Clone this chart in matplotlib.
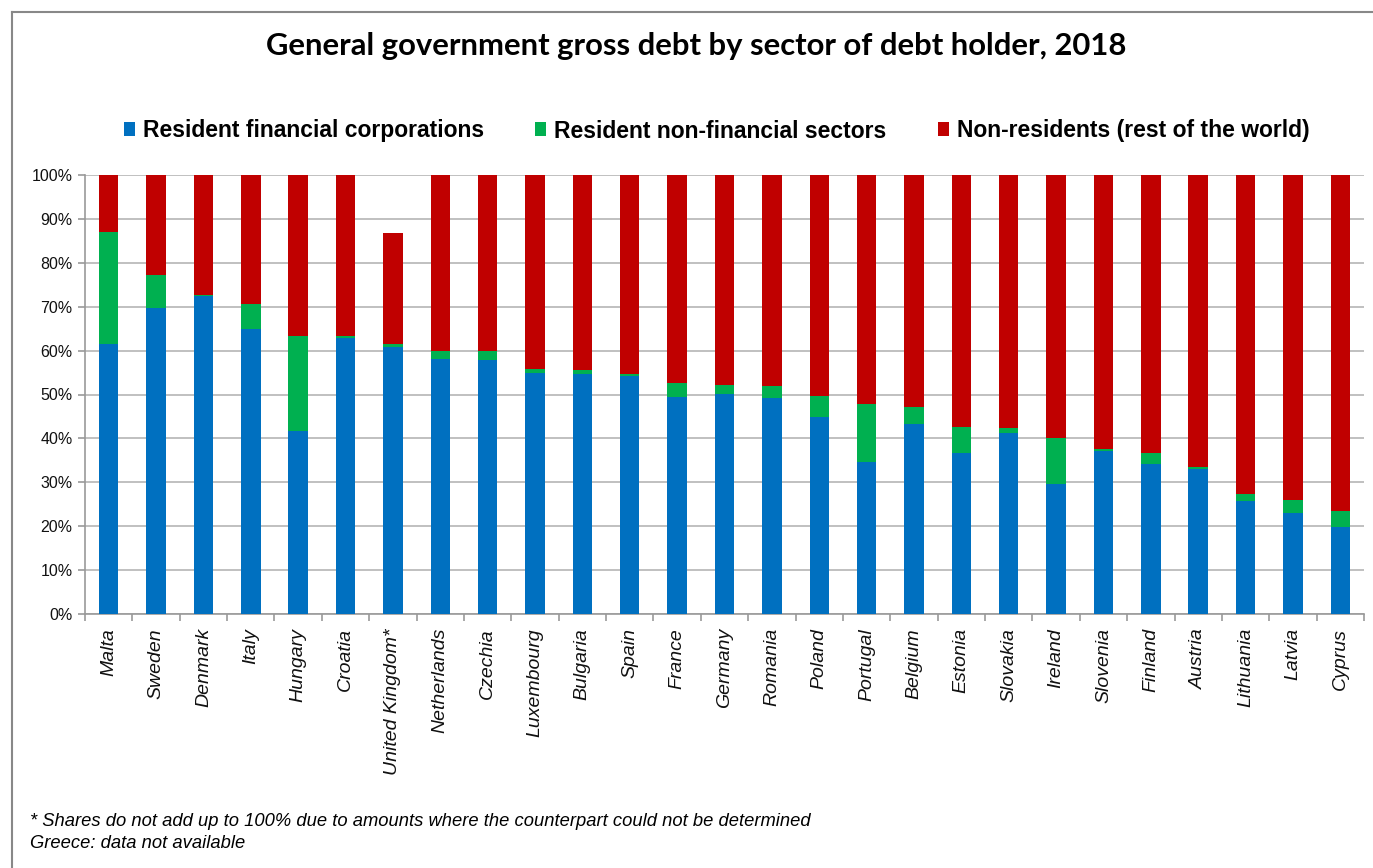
import numpy as np
import matplotlib
matplotlib.use("Agg")
import matplotlib.pyplot as plt
from matplotlib.patches import Patch
from matplotlib.lines import Line2D
from matplotlib.ticker import PercentFormatter

countries = ["Malta", "Sweden", "Denmark", "Italy", "Hungary", "Croatia", "United Kingdom*",
             "Netherlands", "Czechia", "Luxembourg", "Bulgaria", "Spain", "France", "Germany",
             "Romania", "Poland", "Portugal", "Belgium", "Estonia", "Slovakia", "Ireland",
             "Slovenia", "Finland", "Austria", "Lithuania", "Latvia", "Cyprus"]

financial = [61.5, 69.7, 72.4, 65.0, 41.7, 62.9, 60.8, 58.0, 57.8, 54.9, 54.6, 54.3, 49.4, 50.2,
             49.3, 44.8, 34.6, 43.3, 36.6, 41.3, 29.7, 37.2, 34.1, 33.0, 25.8, 23.0, 19.8]
non_financial = [25.5, 7.6, 0.3, 5.6, 21.7, 0.4, 0.7, 1.9, 2.1, 0.9, 1.0, 0.3, 3.2, 2.0,
                 2.7, 4.8, 13.2, 3.9, 5.9, 1.1, 10.5, 0.4, 2.5, 0.5, 1.6, 2.9, 3.6]
non_residents = [13.0, 22.7, 27.3, 29.4, 36.6, 36.7, 25.3, 40.1, 40.1, 44.2, 44.4, 45.4, 47.4, 47.8,
                 48.0, 50.4, 52.2, 52.8, 57.5, 57.6, 59.8, 62.4, 63.4, 66.5, 72.6, 74.1, 76.6]

series_names = ["Resident financial corporations", "Resident non-financial sectors",
                "Non-residents (rest of the world)"]
colors = ["#0070C0", "#00B050", "#C00000"]

fig = plt.figure(figsize=(13.73, 8.68), dpi=100)
ax = fig.add_axes([85 / 1373, 1 - 614 / 868, (1364 - 85) / 1373, (614 - 175) / 868])

x = np.arange(len(countries))
bottom = np.zeros(len(countries))
for vals, col in zip([financial, non_financial, non_residents], colors):
    v = np.array(vals) / 100
    ax.bar(x, v, width=0.41, bottom=bottom, color=col, zorder=3)
    bottom += v

ax.set_xlim(-0.5, len(countries) - 0.5)
ax.set_ylim(0, 1)
ax.set_yticks(np.arange(0, 1.01, 0.1))
ax.yaxis.set_major_formatter(PercentFormatter(1.0, decimals=0))
ax.grid(axis="y", color="#C0C0C0", linewidth=1.4, zorder=0)

ax.set_xticks(x)
ax.set_xticklabels(countries, rotation=90, fontstyle="italic", fontsize=14,
                   family="Liberation Sans", color="#111111")
ax.set_xticks(np.arange(-0.5, len(countries), 1), minor=True)
ax.tick_params(axis="x", which="major", length=0, pad=10)
ax.tick_params(axis="x", which="minor", length=5, color="#999999", width=1.2)
ax.tick_params(axis="y", length=5, color="#999999", width=1.2, labelsize=11.5, pad=4,
               labelcolor="#111111")
for lab in ax.get_yticklabels():
    lab.set_family("Liberation Sans")

for s in ["top", "right"]:
    ax.spines[s].set_visible(False)
for s in ["left", "bottom"]:
    ax.spines[s].set_color("#999999")
    ax.spines[s].set_linewidth(1.2)

fig.text(0.507, 1 - 46 / 868, "General government gross debt by sector of debt holder, 2018",
         ha="center", va="center", fontsize=22.3, fontweight="bold", family="Lato")

handles = [Patch(facecolor=c, edgecolor="none") for c in colors]
fig.legend(handles, series_names, loc="center", bbox_to_anchor=(0.522, 1 - 131 / 868),
           ncol=3, frameon=False, prop={"family": "Liberation Sans", "weight": "bold", "size": 16.5},
           handlelength=0.48, handleheight=0.55, handletextpad=0.35, columnspacing=2.25)

fig.text(30 / 1373, 1 - 822 / 868,
         "* Shares do not add up to 100% due to amounts where the counterpart could not be determined",
         ha="left", va="center", fontsize=13.2, fontstyle="italic", family="Liberation Sans")
fig.text(30 / 1373, 1 - 843 / 868, "Greece: data not available",
         ha="left", va="center", fontsize=13.2, fontstyle="italic", family="Liberation Sans")

# outer chart frame
fig.add_artist(Line2D([12 / 1373, 12 / 1373], [0, 1 - 12 / 868], color="#888888", linewidth=1.5))
fig.add_artist(Line2D([12 / 1373, 1], [1 - 12 / 868, 1 - 12 / 868], color="#888888", linewidth=1.5))

fig.savefig("out.png", dpi=100)
